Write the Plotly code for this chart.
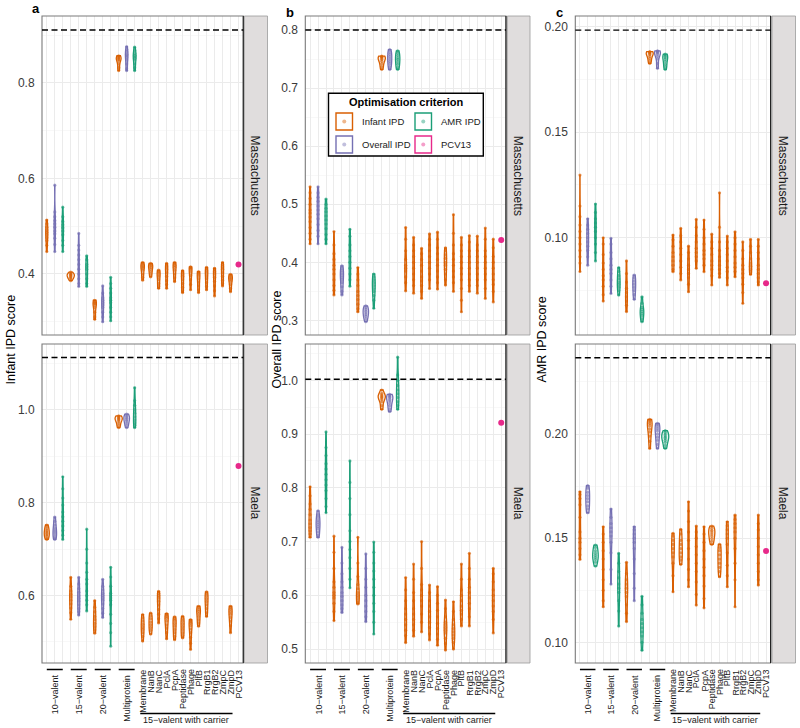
import numpy as np
import plotly.graph_objects as go

W, H = 800, 728
FONT = "Liberation Sans, Arial, Helvetica, sans-serif"

# ---------------- categories / labels ----------------
groups = ["10−valent", "15−valent", "20−valent", "Multiprotein"]
criteria = ["Infant IPD", "Overall IPD", "AMR IPD"]
carriers = ["Membrane", "NanB", "NanC", "PclA", "PcpA", "Peptidase", "Phage",
            "PltB", "RrgB1", "RrgB2", "ZmpC", "ZmpD"]
reference_label = "PCV13"
carrier_group_label = "15−valent with carrier"
locations = ["Massachusetts", "Maela"]
panel_tags = ["a", "b", "c"]
score_titles = ["Infant IPD score", "Overall IPD score", "AMR IPD score"]
legend_title = "Optimisation criterion"
legend_entries = ["Infant IPD", "AMR IPD", "Overall IPD", "PCV13"]

# ---------------- values (positions 1..24; None = no formulation) ----------------
infant_mass = [
    [0.513, 0.505, 0.498, 0.492, 0.487, 0.482, 0.476, 0.470, 0.460, 0.447],
    [0.586, 0.530, 0.520, 0.512, 0.505, 0.498, 0.490, 0.484, 0.475, 0.462, 0.447],
    [0.540, 0.520, 0.510, 0.503, 0.497, 0.490, 0.482, 0.470, 0.460, 0.447],
    [0.404, 0.401, 0.399, 0.398, 0.396, 0.394, 0.392, 0.390, 0.386],
    [0.485, 0.460, 0.450, 0.440, 0.430, 0.420, 0.410, 0.400, 0.390, 0.380, 0.374],
    [0.438, 0.430, 0.420, 0.415, 0.410, 0.400, 0.390, 0.380, 0.374],
    [0.345, 0.342, 0.340, 0.338, 0.335, 0.330, 0.320, 0.310, 0.305],
    [0.375, 0.360, 0.350, 0.345, 0.340, 0.335, 0.330, 0.320, 0.310, 0.300],
    [0.393, 0.380, 0.370, 0.360, 0.350, 0.345, 0.340, 0.330, 0.320, 0.310, 0.302],
    [0.857, 0.855, 0.853, 0.851, 0.849, 0.846, 0.840, 0.832, 0.826],
    [0.876, 0.870, 0.865, 0.860, 0.857, 0.853, 0.848, 0.840, 0.830, 0.826],
    [0.875, 0.868, 0.862, 0.858, 0.855, 0.852, 0.848, 0.840, 0.832, 0.826],
    [0.424, 0.421, 0.418, 0.415, 0.412, 0.408, 0.400, 0.393, 0.387],
    [0.422, 0.420, 0.417, 0.414, 0.410, 0.405, 0.400, 0.394],
    [0.408, 0.405, 0.402, 0.398, 0.394, 0.388, 0.380, 0.374, 0.370],
    [0.422, 0.419, 0.415, 0.410, 0.403, 0.395, 0.386, 0.378, 0.370],
    [0.424, 0.421, 0.418, 0.414, 0.408, 0.400, 0.392, 0.384],
    [0.407, 0.404, 0.400, 0.395, 0.388, 0.380, 0.372, 0.365, 0.361],
    [0.415, 0.414, 0.412, 0.409, 0.404, 0.397, 0.388, 0.378, 0.367],
    [0.405, 0.403, 0.400, 0.396, 0.390, 0.383, 0.375, 0.367, 0.361],
    [0.414, 0.411, 0.407, 0.402, 0.396, 0.390, 0.382, 0.374, 0.367],
    [0.412, 0.409, 0.405, 0.400, 0.393, 0.385, 0.375, 0.365, 0.354],
    [0.424, 0.420, 0.415, 0.410, 0.403, 0.395, 0.387, 0.380, 0.375],
    [0.399, 0.397, 0.394, 0.391, 0.388, 0.384, 0.378, 0.370, 0.363],
]
infant_maela = [
    [0.752, 0.748, 0.744, 0.740, 0.737, 0.734, 0.731, 0.728, 0.724, 0.721],
    [0.769, 0.760, 0.752, 0.746, 0.741, 0.737, 0.733, 0.728, 0.724, 0.721],
    [0.856, 0.830, 0.810, 0.795, 0.780, 0.770, 0.760, 0.750, 0.740, 0.730, 0.721],
    [0.639, 0.620, 0.610, 0.603, 0.597, 0.590, 0.582, 0.573, 0.563, 0.549],
    [0.639, 0.625, 0.615, 0.607, 0.600, 0.594, 0.588, 0.580, 0.572, 0.565, 0.558],
    [0.743, 0.700, 0.670, 0.650, 0.635, 0.625, 0.610, 0.600, 0.590, 0.580, 0.567],
    [0.589, 0.575, 0.565, 0.555, 0.548, 0.540, 0.533, 0.526, 0.519],
    [0.635, 0.620, 0.612, 0.605, 0.600, 0.595, 0.590, 0.582, 0.572, 0.562, 0.553],
    [0.661, 0.640, 0.620, 0.605, 0.600, 0.595, 0.590, 0.580, 0.560, 0.540, 0.520, 0.491],
    [0.987, 0.985, 0.983, 0.981, 0.979, 0.976, 0.972, 0.967, 0.962],
    [0.991, 0.988, 0.985, 0.982, 0.979, 0.976, 0.972, 0.967, 0.962],
    [1.048, 1.020, 1.010, 1.000, 0.993, 0.985, 0.978, 0.972, 0.967, 0.962],
    [0.559, 0.552, 0.545, 0.538, 0.532, 0.527, 0.520, 0.512, 0.502],
    [0.562, 0.556, 0.550, 0.543, 0.537, 0.531, 0.525, 0.517],
    [0.609, 0.605, 0.600, 0.595, 0.588, 0.580, 0.570, 0.560, 0.550, 0.541],
    [0.561, 0.558, 0.555, 0.551, 0.545, 0.537, 0.530, 0.520, 0.507],
    [0.554, 0.550, 0.546, 0.540, 0.534, 0.527, 0.520, 0.512, 0.505],
    [0.555, 0.550, 0.545, 0.539, 0.533, 0.527, 0.520, 0.514, 0.509],
    [0.548, 0.546, 0.543, 0.540, 0.535, 0.528, 0.520, 0.510, 0.497, 0.484],
    [0.577, 0.574, 0.570, 0.566, 0.561, 0.555, 0.548, 0.541, 0.534],
    [0.608, 0.604, 0.599, 0.593, 0.587, 0.580, 0.572, 0.563, 0.555],
    None,
    None,
    [0.577, 0.574, 0.570, 0.565, 0.560, 0.553, 0.545, 0.535, 0.520],
]
overall_mass = [
    [0.530, 0.520, 0.510, 0.500, 0.490, 0.485, 0.478, 0.470, 0.460, 0.450, 0.440, 0.432],
    [0.530, 0.520, 0.512, 0.505, 0.497, 0.490, 0.483, 0.475, 0.465, 0.455, 0.445, 0.432],
    [0.509, 0.500, 0.493, 0.487, 0.480, 0.473, 0.466, 0.458, 0.448, 0.440, 0.432],
    [0.453, 0.430, 0.415, 0.405, 0.395, 0.388, 0.380, 0.370, 0.360, 0.352, 0.344],
    [0.394, 0.390, 0.386, 0.382, 0.378, 0.374, 0.370, 0.365, 0.358, 0.350, 0.344],
    [0.457, 0.445, 0.430, 0.420, 0.410, 0.400, 0.390, 0.380, 0.370, 0.359],
    [0.391, 0.380, 0.370, 0.360, 0.350, 0.343, 0.336, 0.328, 0.320, 0.315],
    [0.325, 0.322, 0.319, 0.316, 0.313, 0.310, 0.307, 0.303, 0.298],
    [0.380, 0.375, 0.370, 0.365, 0.360, 0.355, 0.350, 0.343, 0.335, 0.321],
    [0.755, 0.754, 0.753, 0.751, 0.749, 0.746, 0.742, 0.737, 0.732],
    [0.766, 0.762, 0.758, 0.754, 0.750, 0.746, 0.742, 0.737, 0.732],
    [0.764, 0.760, 0.756, 0.752, 0.749, 0.745, 0.741, 0.736, 0.732],
    [0.460, 0.440, 0.420, 0.405, 0.395, 0.390, 0.385, 0.375, 0.365, 0.351],
    [0.443, 0.430, 0.420, 0.410, 0.400, 0.390, 0.380, 0.370, 0.360, 0.347],
    [0.424, 0.415, 0.405, 0.395, 0.385, 0.375, 0.368, 0.360, 0.350, 0.338],
    [0.449, 0.440, 0.430, 0.420, 0.410, 0.400, 0.390, 0.380, 0.370, 0.355],
    [0.452, 0.440, 0.425, 0.415, 0.405, 0.395, 0.385, 0.375, 0.365, 0.354],
    [0.425, 0.420, 0.413, 0.407, 0.400, 0.395, 0.388, 0.380, 0.370, 0.361],
    [0.482, 0.450, 0.430, 0.415, 0.405, 0.395, 0.385, 0.375, 0.365, 0.350],
    [0.443, 0.430, 0.420, 0.410, 0.400, 0.390, 0.380, 0.370, 0.355, 0.335, 0.315],
    [0.446, 0.435, 0.420, 0.410, 0.400, 0.390, 0.380, 0.370, 0.360, 0.350],
    [0.445, 0.430, 0.420, 0.410, 0.400, 0.390, 0.380, 0.370, 0.360, 0.347],
    [0.459, 0.440, 0.420, 0.410, 0.400, 0.390, 0.380, 0.370, 0.355, 0.338],
    [0.440, 0.425, 0.410, 0.400, 0.390, 0.380, 0.370, 0.362, 0.350, 0.332],
]
overall_maela = [
    [0.802, 0.785, 0.770, 0.760, 0.750, 0.740, 0.733, 0.726, 0.720, 0.714, 0.708],
    [0.757, 0.750, 0.745, 0.740, 0.736, 0.732, 0.728, 0.724, 0.718, 0.712, 0.708],
    [0.904, 0.875, 0.860, 0.845, 0.835, 0.825, 0.815, 0.805, 0.795, 0.780, 0.765, 0.754],
    [0.710, 0.680, 0.650, 0.625, 0.615, 0.605, 0.600, 0.595, 0.585, 0.570, 0.553],
    [0.689, 0.660, 0.640, 0.625, 0.615, 0.605, 0.598, 0.590, 0.582, 0.575, 0.568],
    [0.850, 0.810, 0.780, 0.750, 0.720, 0.700, 0.685, 0.670, 0.650, 0.630, 0.614],
    [0.708, 0.660, 0.635, 0.620, 0.612, 0.605, 0.600, 0.595, 0.590, 0.586, 0.584],
    [0.677, 0.650, 0.630, 0.615, 0.600, 0.590, 0.580, 0.570, 0.560, 0.551],
    [0.699, 0.680, 0.660, 0.645, 0.630, 0.615, 0.600, 0.585, 0.570, 0.550, 0.528],
    [0.982, 0.976, 0.973, 0.971, 0.969, 0.967, 0.964, 0.960, 0.953, 0.946],
    [0.974, 0.972, 0.970, 0.968, 0.965, 0.962, 0.958, 0.953, 0.947, 0.942],
    [1.043, 1.010, 1.000, 0.990, 0.982, 0.975, 0.968, 0.960, 0.953, 0.946],
    [0.633, 0.610, 0.590, 0.575, 0.565, 0.555, 0.545, 0.535, 0.525, 0.512],
    [0.658, 0.630, 0.605, 0.590, 0.575, 0.565, 0.555, 0.545, 0.535, 0.524],
    [0.700, 0.650, 0.620, 0.610, 0.600, 0.590, 0.580, 0.565, 0.550, 0.532],
    [0.619, 0.605, 0.590, 0.580, 0.570, 0.560, 0.550, 0.540, 0.528, 0.517],
    [0.616, 0.600, 0.585, 0.572, 0.560, 0.548, 0.538, 0.528, 0.518, 0.507],
    [0.591, 0.575, 0.560, 0.550, 0.545, 0.540, 0.535, 0.530, 0.520, 0.510, 0.498],
    [0.588, 0.570, 0.555, 0.545, 0.538, 0.532, 0.526, 0.520, 0.512, 0.500],
    [0.658, 0.630, 0.610, 0.600, 0.590, 0.580, 0.572, 0.565, 0.555, 0.543],
    [0.678, 0.650, 0.630, 0.615, 0.605, 0.595, 0.585, 0.575, 0.560, 0.543],
    None,
    None,
    [0.650, 0.640, 0.625, 0.610, 0.600, 0.590, 0.580, 0.570, 0.555, 0.530],
]
amr_mass = [
    [0.1297, 0.115, 0.110, 0.106, 0.103, 0.100, 0.097, 0.094, 0.091, 0.088, 0.084],
    [0.109, 0.106, 0.104, 0.102, 0.100, 0.098, 0.096, 0.094, 0.091, 0.087],
    [0.116, 0.112, 0.109, 0.107, 0.105, 0.103, 0.100, 0.097, 0.093, 0.089],
    [0.100, 0.097, 0.092, 0.088, 0.085, 0.082, 0.080, 0.077, 0.073, 0.070],
    [0.0997, 0.097, 0.093, 0.090, 0.087, 0.085, 0.083, 0.080, 0.077, 0.0736],
    [0.0858, 0.084, 0.082, 0.0805, 0.079, 0.0778, 0.0765, 0.075, 0.0728],
    [0.089, 0.083, 0.079, 0.076, 0.074, 0.072, 0.070, 0.068, 0.065],
    [0.0823, 0.081, 0.0795, 0.078, 0.0765, 0.075, 0.073, 0.0708],
    [0.072, 0.069, 0.067, 0.066, 0.065, 0.064, 0.063, 0.0615, 0.0602],
    [0.1882, 0.1880, 0.1877, 0.1873, 0.1868, 0.1860, 0.1850, 0.1838, 0.1826],
    [0.1886, 0.1883, 0.1880, 0.1876, 0.1870, 0.1860, 0.1848, 0.1825, 0.1803],
    [0.1870, 0.1866, 0.1860, 0.1853, 0.1845, 0.1835, 0.1822, 0.1810, 0.1798],
    [0.1013, 0.099, 0.096, 0.093, 0.091, 0.089, 0.087, 0.085, 0.0839],
    [0.1044, 0.101, 0.098, 0.095, 0.092, 0.089, 0.086, 0.083, 0.080],
    [0.096, 0.093, 0.090, 0.087, 0.085, 0.083, 0.081, 0.078, 0.0744],
    [0.1087, 0.105, 0.101, 0.098, 0.095, 0.093, 0.091, 0.089, 0.0855],
    [0.1084, 0.104, 0.100, 0.097, 0.094, 0.092, 0.090, 0.087, 0.0839],
    [0.1017, 0.098, 0.095, 0.092, 0.089, 0.087, 0.085, 0.082, 0.0776],
    [0.1213, 0.105, 0.098, 0.094, 0.091, 0.089, 0.087, 0.085, 0.083, 0.0812],
    [0.1008, 0.098, 0.095, 0.092, 0.089, 0.086, 0.084, 0.081, 0.0776],
    [0.1028, 0.100, 0.097, 0.094, 0.091, 0.088, 0.086, 0.084, 0.0815],
    [0.098, 0.094, 0.090, 0.087, 0.085, 0.083, 0.081, 0.078, 0.074, 0.0689],
    [0.0992, 0.096, 0.093, 0.090, 0.088, 0.0865, 0.085, 0.0838, 0.0826],
    [0.0992, 0.096, 0.093, 0.090, 0.087, 0.085, 0.083, 0.081, 0.079, 0.0776],
]
amr_maela = [
    [0.1723, 0.171, 0.169, 0.166, 0.160, 0.153, 0.150, 0.148, 0.145, 0.142, 0.1398],
    [0.1752, 0.174, 0.172, 0.1705, 0.169, 0.1675, 0.1655, 0.164, 0.1622],
    [0.1467, 0.1455, 0.144, 0.1428, 0.1418, 0.1408, 0.1398, 0.1385, 0.1366],
    [0.1555, 0.152, 0.148, 0.144, 0.140, 0.135, 0.130, 0.125, 0.120, 0.1171],
    [0.164, 0.160, 0.157, 0.155, 0.153, 0.151, 0.148, 0.143, 0.135, 0.128],
    [0.1427, 0.138, 0.134, 0.131, 0.128, 0.126, 0.124, 0.120, 0.115, 0.1078],
    [0.1384, 0.133, 0.130, 0.128, 0.126, 0.124, 0.122, 0.118, 0.114, 0.110],
    [0.1555, 0.154, 0.152, 0.150, 0.148, 0.145, 0.140, 0.133, 0.126, 0.120],
    [0.1221, 0.118, 0.114, 0.111, 0.109, 0.107, 0.105, 0.103, 0.100, 0.0962],
    [0.2070, 0.2065, 0.2058, 0.2050, 0.2040, 0.2025, 0.2010, 0.1990, 0.1965, 0.1931],
    [0.2051, 0.2045, 0.2035, 0.2025, 0.2015, 0.2000, 0.1985, 0.1970, 0.1950, 0.1931],
    [0.2016, 0.2008, 0.2000, 0.1992, 0.1985, 0.1978, 0.1970, 0.1960, 0.1945, 0.1931],
    [0.1523, 0.151, 0.149, 0.147, 0.145, 0.143, 0.141, 0.138, 0.132, 0.1243],
    [0.1542, 0.152, 0.149, 0.147, 0.145, 0.143, 0.141, 0.1395, 0.1374],
    [0.1675, 0.163, 0.158, 0.153, 0.149, 0.145, 0.140, 0.135, 0.130, 0.1267],
    [0.1558, 0.153, 0.150, 0.146, 0.142, 0.138, 0.134, 0.129, 0.123, 0.1179],
    [0.1555, 0.152, 0.148, 0.144, 0.140, 0.136, 0.132, 0.127, 0.121, 0.1166],
    [0.1558, 0.1548, 0.1538, 0.153, 0.152, 0.151, 0.1498, 0.1485, 0.147],
    [0.147, 0.1455, 0.144, 0.142, 0.140, 0.138, 0.136, 0.134, 0.1315],
    [0.1579, 0.156, 0.154, 0.152, 0.150, 0.147, 0.143, 0.137, 0.132, 0.1267],
    [0.1611, 0.159, 0.157, 0.155, 0.153, 0.150, 0.145, 0.138, 0.130, 0.1171],
    None,
    None,
    [0.1611, 0.157, 0.154, 0.150, 0.146, 0.142, 0.138, 0.134, 0.130, 0.1275],
]
# PCV13 reference values [Massachusetts, Maela]
pcv13_infant = [0.420, 0.879]
pcv13_overall = [0.4386, 0.921]
pcv13_amr = [0.0784, 0.1438]
# dashed optimum lines [Massachusetts, Maela]
optimum_infant = [0.911, 1.113]
optimum_overall = [0.800, 1.002]
optimum_amr = [0.1984, 0.2366]

# ---------------- styling ----------------
palette = {"Infant IPD": "#D95F02", "Overall IPD": "#7570B3",
           "AMR IPD": "#1B9E77", "PCV13": "#E7298A"}
position_criteria = criteria * len(groups) + ["Infant IPD"] * len(carriers)


def rgba(hexc, a):
    h = hexc.lstrip("#")
    return "rgba(%d,%d,%d,%.3f)" % (int(h[0:2], 16), int(h[2:4], 16), int(h[4:6], 16), a)


def px(x):
    return x / W


def py(y):
    return 1 - y / H


def bw_nrd0(v):
    v = np.asarray(v, float)
    sd = v.std(ddof=1)
    q75, q25 = np.percentile(v, [75, 25])
    iqr = (q75 - q25) / 1.34
    lo = min(sd, iqr) if iqr > 0 else sd
    if lo <= 0:
        lo = abs(v[0]) * 0.01 or 0.01
    return 0.9 * lo * len(v) ** -0.2


def peak_density(v, bw):
    v = np.asarray(v, float)
    grid = np.linspace(v.min(), v.max(), 512)
    z = (grid[:, None] - v[None, :]) / bw
    d = np.exp(-0.5 * z * z).sum(axis=1) / (len(v) * bw * np.sqrt(2 * np.pi))
    return d.max()


col_px = [(42.0, 243.3), (305.3, 506.0), (575.3, 770.7)]
row_px = [(16.0, 335.0), (344.0, 663.0)]
strip_px = [(244.3, 267.5), (507.3, 530.0), (772.0, 795.5)]
title_x_px = [10, 276, 541]
tag_px = [(36, 9), (290, 12), (559, 12)]

panels = [
    (0, 0, infant_mass, pcv13_infant[0], optimum_infant[0], (0.2722, 0.9403), [0.4, 0.6, 0.8], [0.3, 0.5, 0.7, 0.9], "%.1f"),
    (0, 1, overall_mass, pcv13_overall[0], optimum_overall[0], (0.275, 0.824), [0.3, 0.4, 0.5, 0.6, 0.7, 0.8], [0.35, 0.45, 0.55, 0.65, 0.75], "%.1f"),
    (0, 2, amr_mass, pcv13_amr[0], optimum_amr[0], (0.0539, 0.2051), [0.10, 0.15, 0.20], [0.075, 0.125, 0.175], "%.2f"),
    (1, 0, infant_maela, pcv13_infant[1], optimum_infant[1], (0.4547, 1.142), [0.6, 0.8, 1.0], [0.5, 0.7, 0.9, 1.1], "%.1f"),
    (1, 1, overall_maela, pcv13_overall[1], optimum_overall[1], (0.474, 1.0676), [0.5, 0.6, 0.7, 0.8, 0.9, 1.0], [0.55, 0.65, 0.75, 0.85, 0.95, 1.05], "%.1f"),
    (1, 2, amr_maela, pcv13_amr[1], optimum_amr[1], (0.0901, 0.2432), [0.10, 0.15, 0.20], [0.125, 0.175, 0.225], "%.2f"),
]

fig = go.Figure()
shapes = []
annotations = []
layout_axes = {}
n_pos = len(groups) * 3 + len(carriers) + 1

for (r, c, data, pcv, opt, yr, major, minor, fmt) in panels:
    n = r * 3 + c + 1
    xa = "x" if n == 1 else "x%d" % n
    ya = "y" if n == 1 else "y%d" % n
    stats = []
    for vals in data:
        if vals is None:
            stats.append(None)
            continue
        bw = bw_nrd0(vals)
        stats.append((bw, peak_density(vals, bw)))
    pmax = max(s[1] for s in stats if s is not None)
    for i, vals in enumerate(data):
        if vals is None:
            continue
        col = palette[position_criteria[i]]
        bw, pk = stats[i]
        fig.add_trace(go.Violin(
            x=[i + 1] * len(vals), y=vals, xaxis=xa, yaxis=ya, orientation="v",
            width=0.9 * pk / pmax, bandwidth=bw, spanmode="hard", scalemode="width",
            line=dict(color=col, width=1.3), fillcolor=rgba(col, 0.10),
            points="all", pointpos=0, jitter=0,
            marker=dict(size=3.2, color=rgba(col, 0.6)),
            box_visible=False, meanline_visible=False,
            showlegend=False, hoverinfo="skip"))
    fig.add_trace(go.Scatter(x=[n_pos], y=[pcv], xaxis=xa, yaxis=ya, mode="markers",
                             marker=dict(size=6, color=palette["PCV13"]),
                             showlegend=False, hoverinfo="skip"))

    x0, x1 = col_px[c]
    y0, y1 = row_px[r]
    layout_axes["xaxis" if n == 1 else "xaxis%d" % n] = dict(
        domain=[px(x0), px(x1)], anchor=ya, type="linear", range=[0.4, n_pos + 0.6],
        tickvals=list(range(1, n_pos + 1)), showticklabels=False, ticks="",
        showgrid=True, gridcolor="#EBEBEB", gridwidth=1, zeroline=False, showline=False,
        fixedrange=True)
    layout_axes["yaxis" if n == 1 else "yaxis%d" % n] = dict(
        domain=[py(y1), py(y0)], anchor=xa, range=list(yr),
        tickvals=major, ticktext=[fmt % v for v in major],
        tickfont=dict(family=FONT, size=12, color="#3A3A3A"),
        ticks="outside", ticklen=4, tickcolor="rgba(0,0,0,0)",
        showgrid=True, gridcolor="#EBEBEB", gridwidth=1, zeroline=False, showline=False,
        minor=dict(tickvals=minor, showgrid=True, gridcolor="#F3F3F3", gridwidth=0.6, ticks=""),
        fixedrange=True)

    # panel border and strip
    shapes.append(dict(type="rect", xref="paper", yref="paper", x0=px(x0), x1=px(x1),
                       y0=py(y1), y1=py(y0), line=dict(color="#7A7A7A", width=1.1),
                       fillcolor="rgba(0,0,0,0)", layer="above"))
    shapes.append(dict(type="line", xref="paper", yref="paper", x0=px(x1), x1=px(x1),
                       y0=py(y1), y1=py(y0), line=dict(color="#111111", width=1.1), layer="above"))
    sx0, sx1 = strip_px[c]
    shapes.append(dict(type="rect", xref="paper", yref="paper", x0=px(sx0), x1=px(sx1),
                       y0=py(y1), y1=py(y0), line=dict(color="#9A9A9A", width=0.8),
                       fillcolor="#E0DDDD", layer="above"))
    annotations.append(dict(x=px((sx0 + sx1) / 2), y=py((y0 + y1) / 2), xref="paper", yref="paper",
                            text=locations[r], textangle=90, showarrow=False,
                            font=dict(family=FONT, size=12, color="#1A1A1A"),
                            xanchor="center", yanchor="middle"))
    # dashed optimum line
    shapes.append(dict(type="line", xref="%s domain" % xa, yref=ya, x0=0, x1=1, y0=opt, y1=opt,
                       line=dict(color="black", width=1.4, dash="6px,3.5px"), layer="above"))

    if r == 1:
        # group labels with bars
        for g, name in enumerate(groups):
            p0 = g * 3 + 1
            shapes.append(dict(type="line", xref=xa, yref="paper", x0=p0, x1=p0 + 2,
                               y0=py(669.5), y1=py(669.5), line=dict(color="black", width=1.5)))
            annotations.append(dict(x=p0 + 1, y=py(672.5), xref=xa, yref="paper", text=name,
                                    textangle=-90, showarrow=False, xanchor="center", yanchor="top",
                                    font=dict(family=FONT, size=9, color="#1A1A1A")))
        for k, name in enumerate(carriers + [reference_label]):
            annotations.append(dict(x=len(groups) * 3 + 1 + k, y=py(667.5), xref=xa, yref="paper",
                                    text=name, textangle=-90, showarrow=False,
                                    xanchor="center", yanchor="top",
                                    font=dict(family=FONT, size=9, color="#1A1A1A")))
        first_c = len(groups) * 3 + 1
        last_c = first_c + len(carriers) - 1
        shapes.append(dict(type="line", xref=xa, yref="paper", x0=first_c - 0.3, x1=last_c + 0.25,
                           y0=py(713.5), y1=py(713.5), line=dict(color="black", width=1.3)))
        annotations.append(dict(x=(first_c - 0.3 + last_c + 0.25) / 2, y=py(719.5), xref=xa, yref="paper",
                                text=carrier_group_label, showarrow=False,
                                xanchor="center", yanchor="middle",
                                font=dict(family=FONT, size=9, color="#1A1A1A")))

# axis titles and panel tags
for c in range(3):
    annotations.append(dict(x=px(title_x_px[c]), y=py(339.5), xref="paper", yref="paper",
                            text=score_titles[c], textangle=-90, showarrow=False,
                            xanchor="center", yanchor="middle",
                            font=dict(family=FONT, size=12.5, color="black")))
    annotations.append(dict(x=px(tag_px[c][0]), y=py(tag_px[c][1]), xref="paper", yref="paper",
                            text="<b>%s</b>" % panel_tags[c], showarrow=False,
                            xanchor="center", yanchor="middle",
                            font=dict(family=FONT, size=13, color="black")))

# manual legend (inside top middle panel)
shapes.append(dict(type="rect", xref="paper", yref="paper", x0=px(328.5), x1=px(483.3),
                   y0=py(156), y1=py(93.3), line=dict(color="black", width=1.4),
                   fillcolor="white", layer="above"))
annotations.append(dict(x=px(406.5), y=py(102.5), xref="paper", yref="paper",
                        text="<b>%s</b>" % legend_title, showarrow=False,
                        xanchor="center", yanchor="middle",
                        font=dict(family=FONT, size=11, color="black")))
key_boxes = [(336, 113), (415, 113), (336, 136), (415, 136)]
for name, (kx, ky) in zip(legend_entries, key_boxes):
    col = palette[name]
    shapes.append(dict(type="rect", xref="paper", yref="paper", x0=px(kx), x1=px(kx + 16.5),
                       y0=py(ky + 17), y1=py(ky), line=dict(color=col, width=1.4),
                       fillcolor="white", layer="above"))
    cx, cy = kx + 8.25, ky + 8.5
    shapes.append(dict(type="circle", xref="paper", yref="paper", x0=px(cx - 2), x1=px(cx + 2),
                       y0=py(cy + 2), y1=py(cy - 2), line=dict(width=0),
                       fillcolor=rgba(col, 0.45), layer="above"))
    annotations.append(dict(x=px(kx + 23.5), y=py(cy), xref="paper", yref="paper", text=name,
                            showarrow=False, xanchor="left", yanchor="middle",
                            font=dict(family=FONT, size=9.5, color="#1A1A1A")))

fig.update_layout(
    width=W, height=H, autosize=False,
    margin=dict(l=0, r=0, t=0, b=0),
    paper_bgcolor="white", plot_bgcolor="white",
    violinmode="overlay", showlegend=False,
    shapes=shapes, annotations=annotations,
    font=dict(family=FONT),
    **layout_axes)

fig.write_html("out.html", config={"displayModeBar": False, "staticPlot": True},
               post_script="document.body.style.margin='0px';document.body.style.overflow='hidden';")
